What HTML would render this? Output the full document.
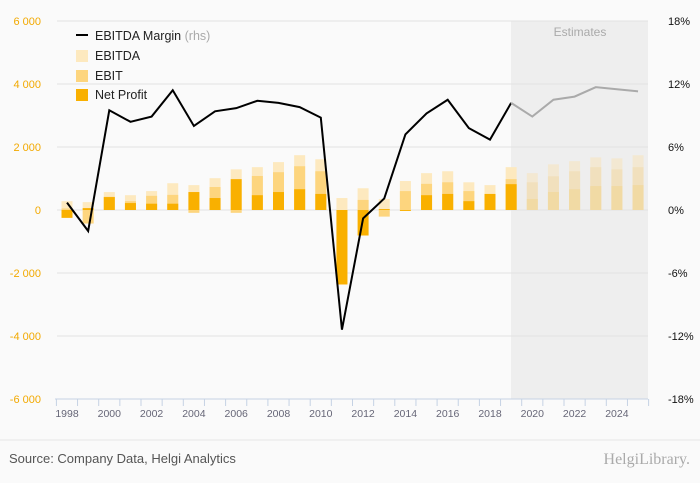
<!DOCTYPE html>
<html><head><meta charset="utf-8"><style>
body{margin:0;background:#fafafa;font-family:"Liberation Sans",sans-serif}
svg{display:block}
</style></head><body>
<svg id="c" width="700" height="483" xmlns="http://www.w3.org/2000/svg">
<rect width="700" height="483" fill="#fafafa"/>
<rect x="511" y="21" width="137" height="378" fill="#eeeeee"/>
<text x="580" y="36" font-size="12" fill="#aaa" text-anchor="middle">Estimates</text>
<g id="grid"></g><g id="bars"></g><g id="line"></g><g id="axes"></g>
<g font-size="12.5" fill="#222">
<line x1="76" y1="35" x2="88" y2="35" stroke="#000" stroke-width="2"/>
<text x="95" y="40">EBITDA Margin <tspan fill="#aaa">(rhs)</tspan></text>
<rect x="76" y="50" width="12" height="12" fill="#fde9bf"/>
<text x="95" y="60">EBITDA</text>
<rect x="76" y="70" width="12" height="12" fill="#fdd57e"/>
<text x="95" y="80">EBIT</text>
<rect x="76" y="89" width="12" height="12" fill="#f9b000"/>
<text x="95" y="99">Net Profit</text>
</g>
<line x1="0" y1="440" x2="700" y2="440" stroke="#e6e6e6"/>
<text x="9" y="463" font-size="13" fill="#555">Source: Company Data, Helgi Analytics</text>
<text x="690" y="464" font-size="16" fill="#aaa" text-anchor="end" font-family="Liberation Serif,serif">HelgiLibrary.</text>
</svg>
<script>
const years=[1998,1999,2000,2001,2002,2003,2004,2005,2006,2007,2008,2009,2010,2011,2012,2013,2014,2015,2016,2017,2018,2019,2020,2021,2022,2023,2024,2025];
const ebitda=[280,250,570,470,600,850,790,1010,1290,1360,1520,1740,1610,380,690,350,920,1170,1230,880,790,1360,1170,1450,1550,1670,1640,1740];
const ebit=[50,-430,420,280,450,480,-90,730,-90,1080,1200,1390,1230,-2380,320,-210,600,830,880,600,500,980,880,1070,1230,1360,1290,1360];
const netProfit=[-250,60,410,220,200,200,570,380,980,470,570,660,510,-2350,-810,30,-30,470,510,280,510,820,350,570,660,760,760,790];
const margin=[0.7,-2.0,9.5,8.4,8.9,11.4,8.0,9.4,9.7,10.4,10.2,9.8,8.8,-11.4,-0.8,1.1,7.2,9.2,10.5,7.8,6.7,10.2,8.9,10.5,10.8,11.7,11.5,11.3];
const leftTicks=[6000,4000,2000,0,-2000,-4000,-6000];
const leftLabels=["6 000","4 000","2 000","0","-2 000","-4 000","-6 000"];
const rightTicks=[18,12,6,0,-6,-12,-18];
const firstEstimate=2020;
const NS="http://www.w3.org/2000/svg";
const x=i=>67+i*21.15;
const y=v=>210-v*189/6000;
const yr=p=>210-p*189/18;
function mk(tag,attrs,parent){const e=document.createElementNS(NS,tag);for(const k in attrs)e.setAttribute(k,attrs[k]);document.getElementById(parent).appendChild(e);return e;}
leftTicks.forEach((t,i)=>{
 if(t!==-6000){const g=mk('line',{x1:57,x2:648,y1:y(t),y2:y(t),stroke:'#e3e3e3'},'grid');
 
 }
 const l=mk('text',{x:41,y:y(t)+4,'font-size':11,fill:'#f2a900','text-anchor':'end'},'axes');l.textContent=leftLabels[i];
 
 
});
rightTicks.forEach(t=>{
 const l=mk('text',{x:668,y:yr(t)+4,'font-size':11,fill:'#111'},'axes');l.textContent=t+'%';
 
 
});
const ax=mk('line',{x1:55,x2:648,y1:399,y2:399,stroke:'#c5d2e4'},'axes');


for(let i=0;i<=years.length;i++){const t=mk('line',{x1:x(i)-10.6,x2:x(i)-10.6,y1:399,y2:406,stroke:'#c5d2e4'},'axes');
 
 }
years.forEach((yv,i)=>{
 if(yv%2===0){const l=mk('text',{x:x(i),y:417,'font-size':10.5,fill:'#667','text-anchor':'middle'},'axes');l.textContent=yv;
 
 }
 const est=yv>=firstEstimate;
 [[ebitda,est?'#f3e8d2':'#fde9bf','bar-ebitda'],[ebit,est?'#f1e0bd':'#fdd57e','bar-ebit'],[netProfit,est?'#f1daa4':'#f9b000','bar-net-profit']].forEach(([arr,col,nm])=>{
  const v=arr[i];const r=mk('rect',{x:x(i)-5.5,width:11,y:Math.min(y(v),y(0)),height:Math.abs(y(v)-y(0)),fill:col},'bars');
  
  
 });
});
const ei=years.indexOf(firstEstimate)-1;
const p1=margin.slice(0,ei+1).map((m,i)=>x(i)+','+yr(m)).join(' ');
const p2=margin.slice(ei).map((m,i)=>x(i+ei)+','+yr(m)).join(' ');
const l1=mk('polyline',{points:p1,fill:'none',stroke:'#000','stroke-width':2},'line');


const l2=mk('polyline',{points:p2,fill:'none',stroke:'#aaa','stroke-width':2},'line');


</script>
</body></html>
